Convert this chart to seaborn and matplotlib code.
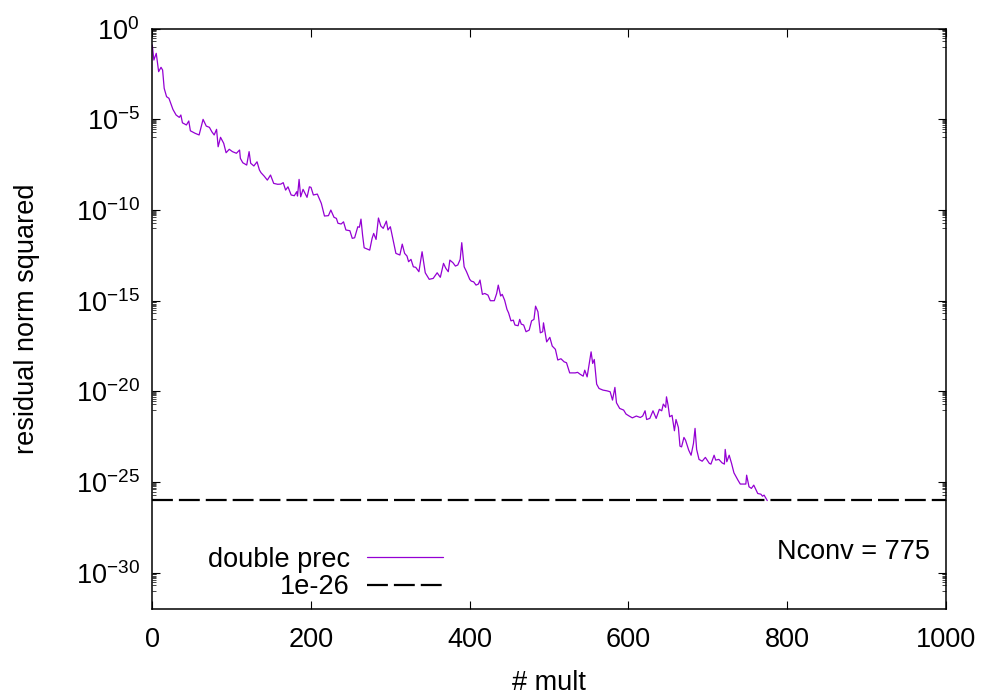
import numpy as np
import pandas as pd
import matplotlib.pyplot as plt
import seaborn as sns
from matplotlib.ticker import FixedLocator, NullFormatter

'''Residual history read off the reference (log10 of residual norm squared)'''

mult = [
    0, 2, 5, 8, 11, 13, 15, 18, 21, 26,
    30, 34, 36, 38, 43, 46, 48, 54, 59, 64,
    68, 72, 75, 78, 81, 83, 86, 90, 93, 97,
    101, 106, 110, 111, 114, 119, 122, 124, 128, 132,
    135, 137, 141, 145, 149, 153, 158, 162, 165, 168,
    171, 175, 179, 182, 183, 185, 187, 190, 195, 198,
    200, 203, 208, 213, 217, 222, 225, 229, 232, 234,
    238, 241, 244, 249, 252, 255, 259, 261, 263, 265,
    267, 274, 277, 279, 282, 285, 288, 291, 295, 297,
    300, 303, 307, 312, 315, 318, 321, 323, 326, 329,
    332, 336, 340, 344, 349, 354, 359, 363, 367, 370,
    373, 375, 379, 382, 385, 388, 390, 393, 396, 400,
    402, 405, 408, 411, 413, 416, 419, 423, 426, 431,
    434, 436, 439, 441, 444, 447, 449, 452, 455, 457,
    461, 463, 465, 468, 471, 475, 478, 481, 483, 486,
    489, 492, 493, 497, 501, 504, 508, 511, 515, 519,
    522, 526, 533, 536, 539, 543, 545, 548, 551, 553,
    555, 557, 560, 563, 568, 573, 577, 580, 583, 585,
    589, 594, 597, 601, 605, 610, 615, 618, 621, 623,
    627, 631, 635, 639, 642, 644, 647, 648, 650, 652,
    655, 658, 660, 663, 665, 667, 670, 672, 676, 679,
    682, 684, 686, 689, 693, 697, 702, 704, 708, 710,
    714, 718, 721, 722, 724, 727, 730, 733, 738, 741,
    745, 748, 749, 752, 755, 758, 760, 763, 767, 769,
    771, 775,
]

log10_res = [
    -0.90, -1.73, -1.36, -2.37, -2.13, -2.28, -3.29, -3.75, -3.84, -4.45,
    -4.76, -4.89, -4.76, -5.19, -5.31, -5.09, -5.63, -5.77, -5.86, -5.00,
    -5.37, -5.44, -5.68, -5.86, -5.55, -6.51, -5.99, -6.32, -6.84, -6.65,
    -6.78, -6.87, -6.69, -7.15, -7.39, -7.52, -6.78, -7.42, -7.57, -7.34,
    -7.79, -7.94, -8.13, -8.35, -8.07, -8.53, -8.58, -8.57, -8.49, -8.90,
    -8.72, -9.17, -9.21, -8.99, -9.23, -8.31, -9.27, -8.86, -9.30, -8.72,
    -8.75, -9.17, -9.12, -9.63, -10.33, -10.31, -10.00, -10.40, -10.46, -10.73,
    -10.77, -10.65, -11.10, -11.14, -11.56, -11.53, -10.92, -10.95, -10.50, -11.38,
    -12.08, -12.21, -11.56, -11.29, -11.62, -10.44, -10.88, -11.01, -10.61, -11.10,
    -10.92, -11.56, -12.39, -12.48, -11.88, -12.39, -12.54, -12.85, -12.72, -13.13,
    -13.16, -13.40, -12.30, -13.46, -13.82, -13.77, -13.46, -13.71, -12.94, -13.22,
    -13.40, -12.76, -12.91, -13.09, -13.03, -12.72, -11.80, -13.13, -13.40, -13.82,
    -13.92, -13.96, -14.14, -14.08, -13.86, -14.65, -14.60, -14.69, -15.00, -15.00,
    -14.60, -14.14, -14.74, -14.65, -14.97, -15.48, -15.67, -16.11, -16.07, -16.34,
    -16.38, -16.03, -16.29, -16.34, -16.71, -16.62, -16.11, -16.03, -15.30, -15.61,
    -16.77, -16.71, -16.22, -17.27, -17.02, -17.50, -17.68, -18.27, -18.20, -18.37,
    -18.42, -18.98, -18.98, -18.95, -19.05, -19.16, -18.83, -19.20, -18.37, -17.82,
    -18.46, -18.24, -19.60, -19.84, -19.93, -19.97, -20.02, -20.48, -19.78, -20.63,
    -20.94, -21.03, -21.25, -21.36, -21.46, -21.36, -21.44, -21.36, -21.07, -21.55,
    -21.49, -21.07, -21.49, -20.99, -21.07, -20.70, -20.88, -20.30, -20.76, -21.40,
    -21.32, -22.17, -21.55, -21.99, -23.02, -23.06, -22.54, -22.69, -23.24, -23.52,
    -22.87, -22.04, -23.20, -23.75, -23.85, -23.64, -23.97, -24.01, -23.52, -23.79,
    -23.75, -23.94, -24.01, -23.20, -23.88, -23.52, -23.97, -24.49, -24.89, -25.11,
    -25.11, -25.11, -24.62, -25.26, -25.35, -25.17, -25.35, -25.63, -25.67, -25.78,
    -25.72, -26.02,
]

tol = 1e-26
nconv = 775
x_ticks = [0, 200, 400, 600, 800, 1000]
y_exps = [0, -5, -10, -15, -20, -25, -30]

df = pd.DataFrame({'mult': mult, 'res': 10.0 ** np.array(log10_res)})

sns.set_style("ticks")
plt.rcParams['font.family'] = ['Liberation Sans', 'DejaVu Sans']
plt.rcParams['mathtext.fontset'] = 'custom'
plt.rcParams['mathtext.rm'] = 'Liberation Sans'
plt.rcParams['mathtext.it'] = 'Liberation Sans:italic'
plt.rcParams['mathtext.bf'] = 'Liberation Sans:bold'
plt.rcParams['text.color'] = 'black'
plt.rcParams['axes.labelcolor'] = 'black'
fs = 19.5

fig = plt.figure(figsize=(9.96, 6.98), dpi=100)
ax = fig.add_axes([0.1529, 0.1275, 0.7967, 0.8314])

sns.lineplot(data=df, x='mult', y='res', color='#9400d3', lw=0.9,
             estimator=None, ax=ax, label='double prec')
ax.axhline(tol, color='black', lw=1.6, dashes=(9.4, 2.7), label='1e-26')

ax.set_yscale('log')
ax.set_xlim(0, 1000)
ax.set_ylim(1e-32, 1e0)

#ticks gnuplot style: inward, mirrored
ax.set_xticks(x_ticks)
ax.set_xticklabels([str(t) for t in x_ticks])
ax.yaxis.set_major_locator(FixedLocator([10.0 ** e for e in y_exps]))
ax.set_yticklabels(['$10^{%d}$' % e for e in y_exps])
minors = [k * 10.0 ** (e - 1) for e in y_exps for k in range(1, 10)]
minors = [m for m in minors if 1e-32 < m < 1e0 and m not in [10.0 ** e for e in y_exps]]
ax.yaxis.set_minor_locator(FixedLocator(minors))
ax.yaxis.set_minor_formatter(NullFormatter())
ax.xaxis.set_minor_locator(FixedLocator([]))

ax.tick_params(which='major', direction='in', length=5.8, width=0.8,
               top=True, right=True, labelsize=fs, colors='black')
ax.tick_params(axis='x', which='major', pad=13)
ax.tick_params(axis='y', which='major', pad=9)
ax.tick_params(which='minor', direction='in', length=2.9, width=0.6,
               top=True, right=True)
for s in ax.spines.values():
    s.set_linewidth(1.1)
    s.set_color('black')

ax.set_xlabel('# mult', fontsize=fs)
ax.set_ylabel('residual norm squared', fontsize=fs)
ax.xaxis.label.set_va('center')
ax.xaxis.set_label_coords(0.5, -0.128)
ax.yaxis.label.set_va('center')
ax.yaxis.set_label_coords(-0.158, 0.5)

leg = ax.legend(loc='center right', bbox_to_anchor=(0.4448, 0.1784),
                bbox_transform=fig.transFigure, frameon=False, markerfirst=False,
                fontsize=fs, handlelength=2.8, handletextpad=0.63,
                labelspacing=0.05, borderpad=0, borderaxespad=0)
for t in leg.get_texts():
    t.set_ha('right')
    t.set_color('black')

fig.text(0.9337, 0.2096, 'Nconv = %d' % nconv, ha='right', va='center', fontsize=fs)

plt.savefig('out.png', dpi=100)
